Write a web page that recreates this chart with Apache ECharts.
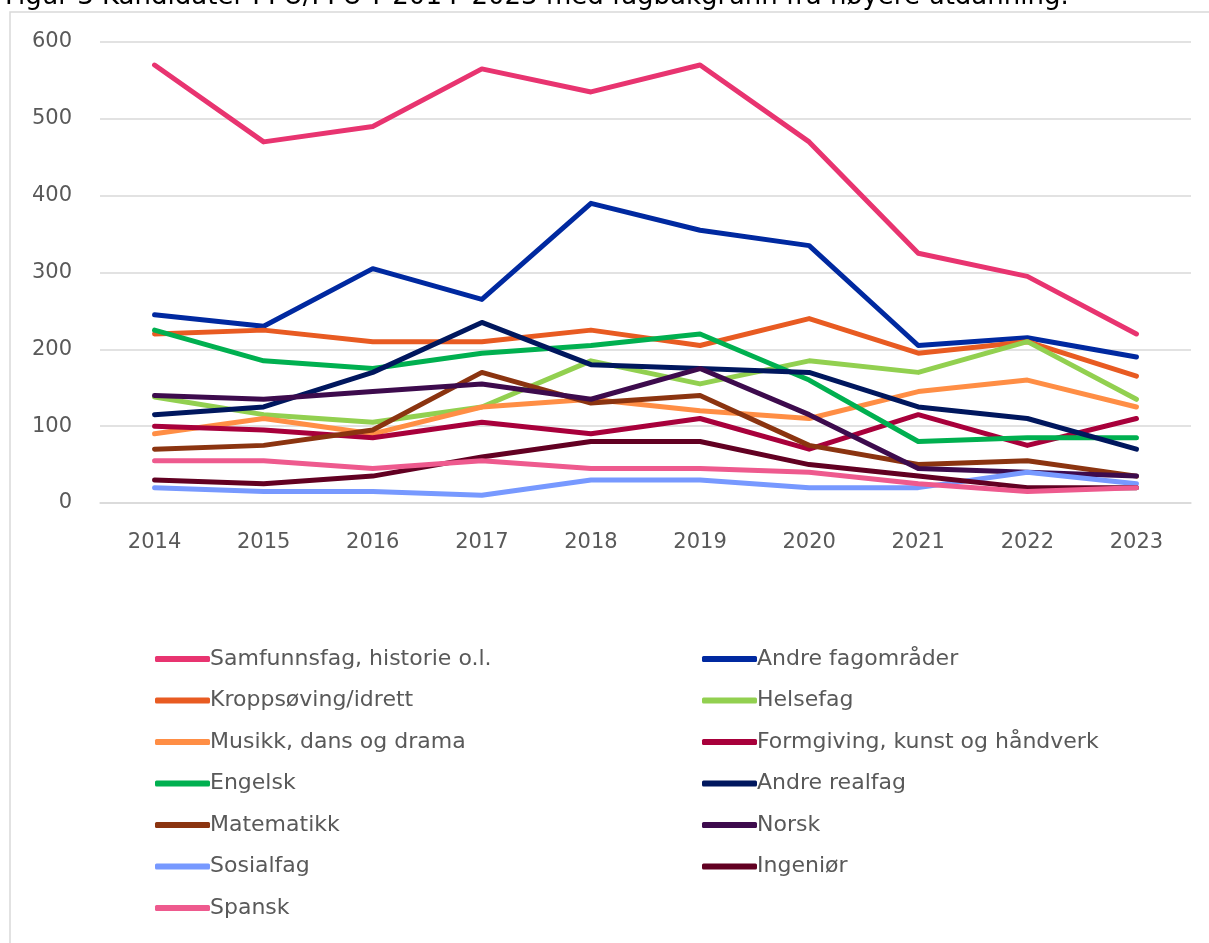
<!DOCTYPE html>
<html>
<head>
<meta charset="utf-8">
<script src="https://cdn.jsdelivr.net/npm/echarts@6/dist/echarts.min.js"></script>
<style>
  html, body { margin: 0; padding: 0; background: #fff; }
  #chart { width: 1209px; height: 943px; }
</style>
</head>
<body>
<div id="chart"></div>
<script>
// kategorier (år)
const years = ['2014', '2015', '2016', '2017', '2018', '2019', '2020', '2021', '2022', '2023']

// verdier per fagbakgrunn
const samfunnsfag = [570, 470, 490, 565, 535, 570, 470, 325, 295, 220]
const andreFagomrader = [245, 230, 305, 265, 390, 355, 335, 205, 215, 190]
const kroppsoving = [220, 225, 210, 210, 225, 205, 240, 195, 210, 165]
const helsefag = [138, 115, 105, 125, 185, 155, 185, 170, 210, 135]
const musikk = [90, 110, 90, 125, 135, 120, 110, 145, 160, 125]
const formgiving = [100, 95, 85, 105, 90, 110, 70, 115, 75, 110]
const engelsk = [225, 185, 175, 195, 205, 220, 160, 80, 85, 85]
const andreRealfag = [115, 125, 170, 235, 180, 175, 170, 125, 110, 70]
const matematikk = [70, 75, 95, 170, 130, 140, 75, 50, 55, 35]
const norsk = [140, 135, 145, 155, 135, 175, 115, 45, 40, 35]
const sosialfag = [20, 15, 15, 10, 30, 30, 20, 20, 40, 25]
const ingenior = [30, 25, 35, 60, 80, 80, 50, 35, 20, 20]
const spansk = [55, 55, 45, 55, 45, 45, 40, 25, 15, 20]

// y-akse
const yTicks = [0, 100, 200, 300, 400, 500, 600]

const seriesDefs = [
  { name: 'Samfunnsfag, historie o.l.', data: samfunnsfag, color: '#E83470' },
  { name: 'Andre fagområder', data: andreFagomrader, color: '#0029A0' },
  { name: 'Kroppsøving/idrett', data: kroppsoving, color: '#E85B22' },
  { name: 'Helsefag', data: helsefag, color: '#92D050' },
  { name: 'Musikk, dans og drama', data: musikk, color: '#FF8E45' },
  { name: 'Formgiving, kunst og håndverk', data: formgiving, color: '#A8003B' },
  { name: 'Engelsk', data: engelsk, color: '#00B050' },
  { name: 'Andre realfag', data: andreRealfag, color: '#00175E' },
  { name: 'Matematikk', data: matematikk, color: '#8B3410' },
  { name: 'Norsk', data: norsk, color: '#3D0B4D' },
  { name: 'Sosialfag', data: sosialfag, color: '#7799FF' },
  { name: 'Ingeniør', data: ingenior, color: '#620022' },
  { name: 'Spansk', data: spansk, color: '#EE5A8E' }
]

const fontFam = '"DejaVu Sans", sans-serif'
const textColor = '#595959'

const chart = echarts.init(document.getElementById('chart'))

const legendCommon = {
  orient: 'vertical',
  top: 643,
  itemWidth: 55,
  itemHeight: 6,
  itemGap: 19.5,
  icon: 'roundRect',
  textStyle: { fontFamily: fontFam, fontSize: 22, color: textColor, padding: [0, 0, 0, -5] },
  selectedMode: false
}

chart.setOption({
  animation: false,
  backgroundColor: '#fff',
  color: seriesDefs.map(s => s.color),
  title: {
    text: 'Figur 3 Kandidater PPU/PPU-Y 2014–2023 med fagbakgrunn fra høyere utdanning.',
    left: 0,
    top: -21,
    textStyle: { fontFamily: fontFam, fontSize: 26, fontWeight: 'normal', color: '#000' }
  },
  graphic: [
    {
      type: 'rect',
      shape: { x: 10, y: 12, width: 1220, height: 960 },
      style: { fill: 'none', stroke: '#D9D9D9', lineWidth: 1.5 },
      silent: true
    }
  ],
  legend: [
    Object.assign({}, legendCommon, {
      left: 150,
      data: seriesDefs.filter((s, i) => i % 2 === 0).map(s => s.name)
    }),
    Object.assign({}, legendCommon, {
      left: 697,
      data: seriesDefs.filter((s, i) => i % 2 === 1).map(s => s.name)
    })
  ],
  grid: { left: 100, right: 18, top: 42, bottom: 440, containLabel: false },
  xAxis: {
    type: 'category',
    data: years,
    boundaryGap: true,
    axisLine: { lineStyle: { color: '#D9D9D9', width: 1.5 } },
    axisTick: { show: false },
    axisLabel: { fontFamily: fontFam, fontSize: 21, color: textColor, margin: 29 }
  },
  yAxis: {
    type: 'value',
    min: yTicks[0],
    max: yTicks[yTicks.length - 1],
    interval: 100,
    axisLine: { show: false },
    axisTick: { show: false },
    splitLine: { lineStyle: { color: '#D9D9D9', width: 1.5 } },
    axisLabel: { fontFamily: fontFam, fontSize: 21, color: textColor, margin: 28 }
  },
  series: seriesDefs.map(s => ({
    name: s.name,
    type: 'line',
    data: s.data,
    symbol: 'none',
    lineStyle: { width: 5, color: s.color, cap: 'round', join: 'round' },
    itemStyle: { color: s.color }
  }))
})
</script>
</body>
</html>
